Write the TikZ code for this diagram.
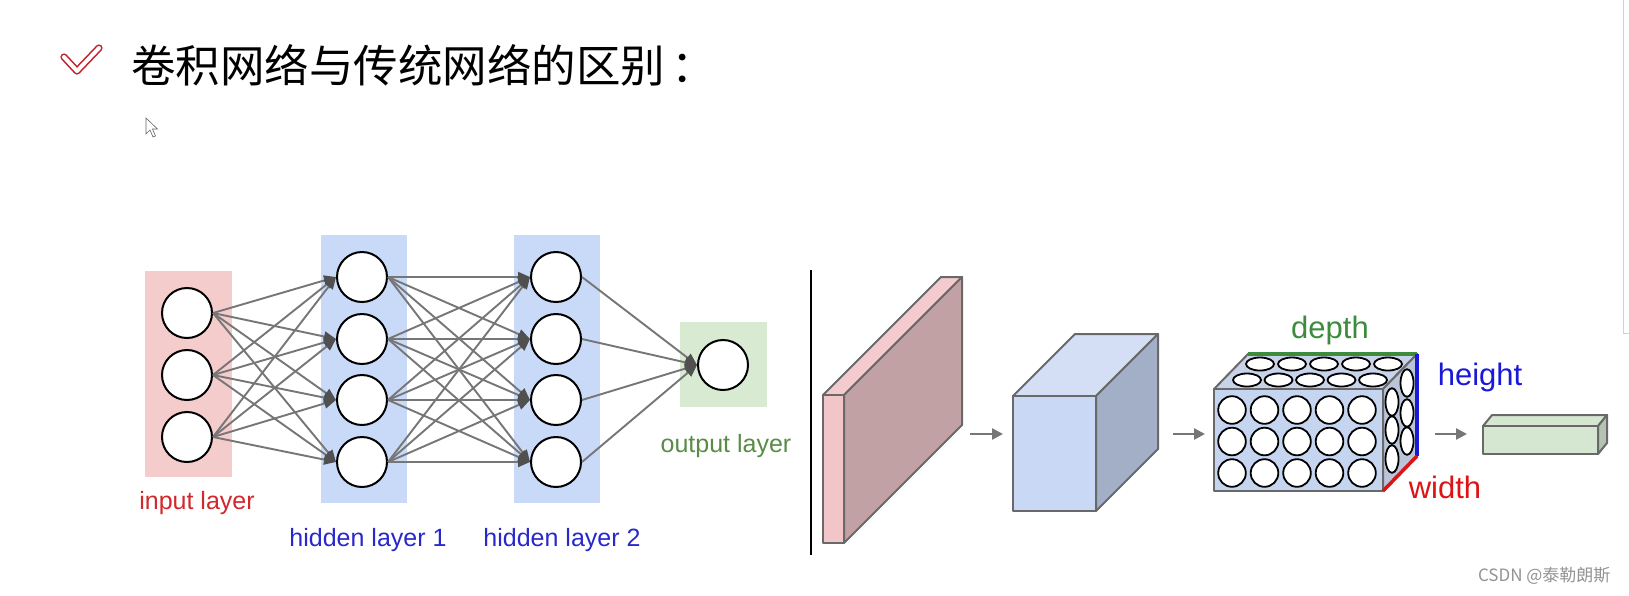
\documentclass[tikz,border=0pt]{standalone}
\usepackage{fontspec}
\setmainfont{Liberation Sans}
\newfontfamily\cjk{Noto Sans CJK SC}
\usetikzlibrary{calc}
\usetikzlibrary{arrows.meta}

\definecolor{inbg}{RGB}{244,204,204}
\definecolor{hidbg}{RGB}{201,218,248}
\definecolor{outbg}{RGB}{217,234,211}
\definecolor{inred}{RGB}{208,40,45}
\definecolor{hidblue}{RGB}{40,40,205}
\definecolor{outgreen}{RGB}{90,140,70}
\definecolor{linkgray}{RGB}{118,118,118}
\definecolor{headgray}{RGB}{80,80,80}
\definecolor{edgegray}{RGB}{105,105,105}
\definecolor{checkred}{RGB}{192,36,44}
\definecolor{slabfront}{RGB}{242,197,201}
\definecolor{slabtop}{RGB}{243,203,206}
\definecolor{slabside}{RGB}{194,161,164}
\definecolor{cubefront}{RGB}{201,217,245}
\definecolor{cubetop}{RGB}{212,223,246}
\definecolor{cubeside}{RGB}{162,175,198}
\definecolor{boxfront}{RGB}{197,213,240}
\definecolor{boxtop}{RGB}{200,210,232}
\definecolor{boxside}{RGB}{186,197,218}
\definecolor{fcfront}{RGB}{213,231,209}
\definecolor{fcside}{RGB}{180,194,177}
\definecolor{depgreen}{RGB}{60,140,60}
\definecolor{hblue}{RGB}{25,25,215}
\definecolor{wred}{RGB}{220,20,20}

\begin{document}
\begin{tikzpicture}[x=1pt,y=-1pt,
  neuron/.style={circle,draw=black,line width=2pt,fill=white,minimum size=50pt,inner sep=0pt},
  link/.style={draw=linkgray,line width=1.9pt,-{Triangle[length=12pt,width=10pt,color=headgray]}},
  flow/.style={draw=linkgray,line width=2.4pt,-{Triangle[length=11pt,width=11pt]}},
  lbl/.style={font=\fontsize{25}{30}\selectfont,inner sep=0pt},
  dimlbl/.style={font=\fontsize{31}{36}\selectfont,inner sep=0pt},
  edge/.style={draw=edgegray,line width=2pt,line join=round},
  dot/.style={draw=black,line width=1.8pt,fill=white}]
\useasboundingbox (0,0) rectangle (1629,595);
\fill[white] (0,0) rectangle (1629,595);
% heading
\draw[checkred,line width=1.6pt,double=white,double distance=4pt,line cap=round,line join=round] (64,57) -- (77,71) -- (99,48);
\node[anchor=west,inner sep=0pt] (title) at (131,65) {\cjk\fontsize{44.5}{52}\selectfont 卷积网络与传统网络的区别\hspace{6pt}：};
\filldraw[draw=gray!80!black,fill=white,line width=0.6pt] (146,118) -- ++(0,16) -- ++(4,-4) -- ++(3,7) -- ++(2.5,-1) -- ++(-3,-7) -- ++(5,0) -- cycle;
\draw[gray!35,line width=1pt] (1623,-2) -- (1623,333) -- (1632,333);
% layer backgrounds
\fill[inbg] (145,271) rectangle (232,477);
\fill[hidbg] (321,235) rectangle (407,503);
\fill[hidbg] (514,235) rectangle (600,503);
\fill[outbg] (680,322) rectangle (767,407);
% neurons
\foreach \r [count=\i] in {313,375,437}
  \node[neuron] (in\i) at (187,\r) {};
\foreach \r [count=\i] in {277,339,400,462}{
  \node[neuron] (ha\i) at (362,\r) {};
  \node[neuron] (hb\i) at (556,\r) {};
}
\node[neuron] (out) at (723,365) {};
% connections
\foreach \a in {1,2,3}
  \foreach \b in {1,...,4}
    \draw[link] (in\a.east) -- (ha\b.west);
\foreach \a in {1,...,4}
  \foreach \b in {1,...,4}
    \draw[link] (ha\a.east) -- (hb\b.west);
\foreach \a in {1,...,4}
  \draw[link] (hb\a.east) -- (out.west);
\node[lbl,text=inred] (inlbl) at (197,503) {input layer};
\node[lbl,text=hidblue] (halbl) at (368,540) {hidden layer 1};
\node[lbl,text=hidblue] (hblbl) at (562,540) {hidden layer 2};
\node[lbl,text=outgreen] (outlbl) at (726,446) {output layer};
\draw[line width=1.5pt] (811,270) -- (811,555);
% input slab
\filldraw[edge,fill=slabtop] (823,395) -- (941,277) -- (962,277) -- (844,395) -- cycle;
\filldraw[edge,fill=slabside] (844,395) -- (962,277) -- (962,425) -- (844,543) -- cycle;
\filldraw[edge,fill=slabfront] (823,395) rectangle (844,543);
% conv cube
\filldraw[edge,fill=cubetop] (1013,396) -- (1075,334) -- (1158,334) -- (1096,396) -- cycle;
\filldraw[edge,fill=cubeside] (1096,396) -- (1158,334) -- (1158,449) -- (1096,511) -- cycle;
\filldraw[edge,fill=cubefront] (1013,396) rectangle (1096,511);
% neuron volume
\filldraw[edge,fill=boxtop] (1214,389) -- (1248,354) -- (1417,354) -- (1383,389) -- cycle;
\filldraw[edge,fill=boxside] (1383,389) -- (1417,354) -- (1417,456) -- (1383,491) -- cycle;
\filldraw[edge,fill=boxfront] (1214,389) rectangle (1383,491);
\foreach \c in {0,...,4}{
  \draw[dot] (1260+32*\c,364) ellipse (14 and 6.5);
  \draw[dot] (1247+31.5*\c,380) ellipse (14 and 6.5);
  \foreach \r in {0,1,2}
    \draw[dot] (1232+32.5*\c,410+31.5*\r) circle (13.8);
}
\foreach \r in {383,413,441}
  \draw[dot] (1407,\r) ellipse (6.5 and 13.8);
\foreach \r in {402,430,459}
  \draw[dot] (1392,\r) ellipse (6.5 and 13.8);
\draw[depgreen,line width=3.5pt] (1248,354) -- (1417,354);
\draw[hblue,line width=3.5pt] (1417,354) -- (1417,456);
\draw[wred,line width=3.5pt] (1383,491) -- (1417,456);
\node[dimlbl,text=depgreen] (deplbl) at (1330,330) {depth};
\node[dimlbl,text=hblue] (hlbl) at (1480,377) {height};
\node[dimlbl,text=wred] (wlbl) at (1445,487) {width};
% fully connected output
\filldraw[edge,fill=fcfront] (1483,426) -- (1492,415) -- (1607,415) -- (1598,426) -- cycle;
\filldraw[edge,fill=fcside] (1598,426) -- (1607,415) -- (1607,443) -- (1598,454) -- cycle;
\filldraw[edge,fill=fcfront] (1483,426) rectangle (1598,454);
% flow between volumes
\coordinate (slabR) at (970,434);
\coordinate (cubeL) at (1003,434);
\coordinate (cubeR) at (1173,434);
\coordinate (boxL) at (1205,434);
\coordinate (boxR) at (1435,434);
\coordinate (fcL) at (1467,434);
\draw[flow] (slabR) -- (cubeL);
\draw[flow] (cubeR) -- (boxL);
\draw[flow] (boxR) -- (fcL);
\node[anchor=east,text=gray!85,font=\cjk\fontsize{17}{20}\selectfont] (mark) at (1614,576) {CSDN @泰勒朗斯};
\end{tikzpicture}
\end{document}
